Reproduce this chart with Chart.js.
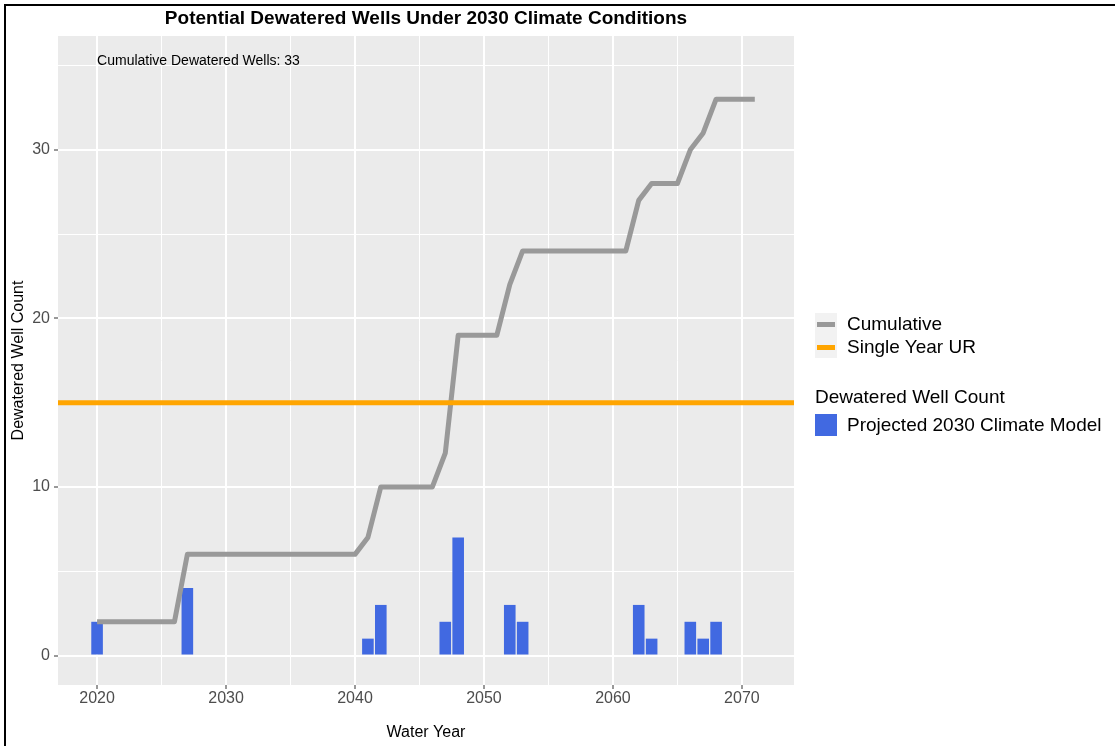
<!DOCTYPE html>
<html>
<head>
<meta charset="utf-8">
<script src="https://cdn.jsdelivr.net/npm/chart.js@4.4.1/dist/chart.umd.min.js"></script>
<style>
  html, body { margin: 0; padding: 0; background: #ffffff; }
  #wrap { position: relative; width: 1115px; height: 746px; overflow: hidden; font-family: "Liberation Sans", Arial, sans-serif; }
  #frame { position: absolute; left: 4px; top: 4px; width: 1200px; height: 800px; border-left: 2px solid #000; border-top: 2px solid #000; box-sizing: border-box; pointer-events: none; }
  canvas { position: absolute; left: 0; top: 0; }
  .txt { position: absolute; font-size: 19px; line-height: 22px; color: #000; white-space: nowrap; }
  .box { position: absolute; }
</style>
</head>
<body>
<div id="wrap">
  <canvas id="c" width="1115" height="746"></canvas>
  <div class="box" style="left:815px;top:313px;width:22px;height:45px;background:#F2F2F2;"></div>
  <div class="box" style="left:817px;top:322px;width:18px;height:5px;background:#999999;"></div>
  <div class="box" style="left:817px;top:345px;width:18px;height:5px;background:#FFA500;"></div>
  <div class="txt" style="left:847px;top:313px;">Cumulative</div>
  <div class="txt" style="left:847px;top:336px;">Single Year UR</div>
  <div class="txt" style="left:815px;top:386px;">Dewatered Well Count</div>
  <div class="box" style="left:815px;top:414px;width:22px;height:22px;background:#4169E1;"></div>
  <div class="txt" style="left:847px;top:414px;">Projected 2030 Climate Model</div>
  <div id="frame"></div>
</div>
<script>
// ---- Data ----
const BAR_YEARS  = [2020, 2027, 2041, 2042, 2047, 2048, 2052, 2053, 2062, 2063, 2066, 2067, 2068];
const BAR_COUNTS = [2, 4, 1, 3, 2, 7, 3, 2, 3, 1, 2, 1, 2];

const LINE_YEARS = [2020, 2021, 2022, 2023, 2024, 2025, 2026, 2027, 2028, 2029,
                    2030, 2031, 2032, 2033, 2034, 2035, 2036, 2037, 2038, 2039,
                    2040, 2041, 2042, 2043, 2044, 2045, 2046, 2047, 2048, 2049,
                    2050, 2051, 2052, 2053, 2054, 2055, 2056, 2057, 2058, 2059,
                    2060, 2061, 2062, 2063, 2064, 2065, 2066, 2067, 2068, 2069,
                    2070, 2071];
const CUMULATIVE = [2, 2, 2, 2, 2, 2, 2, 6, 6, 6,
                    6, 6, 6, 6, 6, 6, 6, 6, 6, 6,
                    6, 7, 10, 10, 10, 10, 10, 12, 19, 19,
                    19, 19, 22, 24, 24, 24, 24, 24, 24, 24,
                    24, 24, 27, 28, 28, 28, 30, 31, 33, 33,
                    33, 33];

const UR_THRESHOLD = 15;

const X_TICKS    = [2020, 2025, 2030, 2035, 2040, 2045, 2050, 2055, 2060, 2065, 2070];
const X_LABELED  = [2020, 2030, 2040, 2050, 2060, 2070];
const Y_TICKS    = [0, 5, 10, 15, 20, 25, 30, 35];
const Y_LABELED  = [0, 10, 20, 30];

const TITLE = "Potential Dewatered Wells Under 2030 Climate Conditions";
const ANNOTATION_TEXT = "Cumulative Dewatered Wells: 33";
const ANNOTATION_X = 2020;
const ANNOTATION_Y = 35;

const X_MIN = 2016.97, X_MAX = 2074.04;
const Y_MIN = -1.75,   Y_MAX = 36.75;

// ---- Chart ----
const FONT = '"Liberation Sans", Arial, sans-serif';
Chart.defaults.font.family = FONT;

const panelBg = {
  id: 'panelBg',
  beforeDraw(chart) {
    const { ctx, chartArea: a } = chart;
    ctx.save();
    ctx.fillStyle = '#EBEBEB';
    ctx.fillRect(a.left, a.top, a.right - a.left, a.bottom - a.top);
    ctx.restore();
  }
};

const overlay = {
  id: 'overlay',
  afterDatasetsDraw(chart) {
    const { ctx, chartArea: a, scales } = chart;
    ctx.save();
    ctx.beginPath();
    ctx.rect(a.left, a.top, a.right - a.left, a.bottom - a.top);
    ctx.clip();
    const yp = scales.y.getPixelForValue(UR_THRESHOLD);
    ctx.strokeStyle = '#FFA500';
    ctx.lineWidth = 5;
    ctx.lineCap = 'butt';
    ctx.beginPath();
    ctx.moveTo(a.left, yp);
    ctx.lineTo(a.right, yp);
    ctx.stroke();
    ctx.restore();

    ctx.save();
    ctx.fillStyle = '#000000';
    ctx.font = '14px ' + FONT;
    ctx.textAlign = 'left';
    ctx.textBaseline = 'middle';
    ctx.fillText(ANNOTATION_TEXT, scales.x.getPixelForValue(ANNOTATION_X), scales.y.getPixelForValue(ANNOTATION_Y) - 4);
    ctx.restore();
  },
  afterDraw(chart) {
    const { ctx, chartArea: a } = chart;
    ctx.save();
    ctx.fillStyle = '#000000';
    ctx.font = 'bold 19px ' + FONT;
    ctx.textAlign = 'center';
    ctx.textBaseline = 'middle';
    ctx.fillText(TITLE, (a.left + a.right) / 2, 19);
    ctx.restore();
  }
};

function gridWidth(list) {
  return (c) => (c.tick && list.includes(c.tick.value)) ? 2 : 1;
}
function tickCol(list) {
  return (c) => (c.tick && list.includes(c.tick.value)) ? '#333333' : 'rgba(0,0,0,0)';
}

new Chart(document.getElementById('c'), {
  data: {
    datasets: [
      {
        type: 'line',
        label: 'Cumulative',
        data: LINE_YEARS.map((x, i) => ({ x: x, y: CUMULATIVE[i] })),
        borderColor: '#999999',
        borderWidth: 5,
        pointRadius: 0,
        tension: 0,
        borderJoinStyle: 'round',
        borderCapStyle: 'butt',
        order: 1
      },
      {
        type: 'bar',
        label: 'Projected 2030 Climate Model',
        data: BAR_YEARS.map((x, i) => ({ x: x, y: BAR_COUNTS[i] })),
        backgroundColor: '#4169E1',
        borderWidth: 0,
        categoryPercentage: 1.0,
        barPercentage: 0.9,
        order: 2
      }
    ]
  },
  options: {
    responsive: false,
    animation: false,
    layout: { padding: { left: 0, right: 321, top: 36, bottom: 0 } },
    plugins: {
      legend: { display: false },
      tooltip: { enabled: false },
      title: { display: false }
    },
    scales: {
      x: {
        type: 'linear',
        offset: false,
        min: X_MIN, max: X_MAX,
        afterBuildTicks: (s) => { s.ticks = X_TICKS.map(v => ({ value: v })); },
        afterFit: (s) => { s.height = 61; },
        border: { display: false },
        grid: {
          offset: false,
          color: '#FFFFFF',
          lineWidth: gridWidth(X_LABELED),
          tickColor: tickCol(X_LABELED),
          tickWidth: 1,
          tickLength: 4,
          drawTicks: true
        },
        ticks: {
          autoSkip: false, maxRotation: 0,
          color: '#4D4D4D',
          font: { size: 16 },
          padding: 0,
          callback: (v) => X_LABELED.includes(v) ? String(v) : ''
        },
        title: {
          display: true, text: 'Water Year', color: '#000000',
          font: { size: 16 }, padding: { top: 0, bottom: 4 }
        }
      },
      y: {
        type: 'linear',
        min: Y_MIN, max: Y_MAX,
        afterBuildTicks: (s) => { s.ticks = Y_TICKS.map(v => ({ value: v })); },
        afterFit: (s) => { s.width = 58; },
        border: { display: false },
        grid: {
          color: '#FFFFFF',
          lineWidth: gridWidth(Y_LABELED),
          tickColor: tickCol(Y_LABELED),
          tickWidth: 1,
          tickLength: 4,
          drawTicks: true
        },
        ticks: {
          autoSkip: false,
          color: '#4D4D4D',
          font: { size: 16 },
          padding: 4,
          callback: (v) => Y_LABELED.includes(v) ? String(v) : ''
        },
        title: {
          display: true, text: 'Dewatered Well Count', color: '#000000',
          font: { size: 16 }, padding: { top: 9, bottom: 0 }
        }
      }
    }
  },
  plugins: [panelBg, overlay]
});
</script>
</body>
</html>
